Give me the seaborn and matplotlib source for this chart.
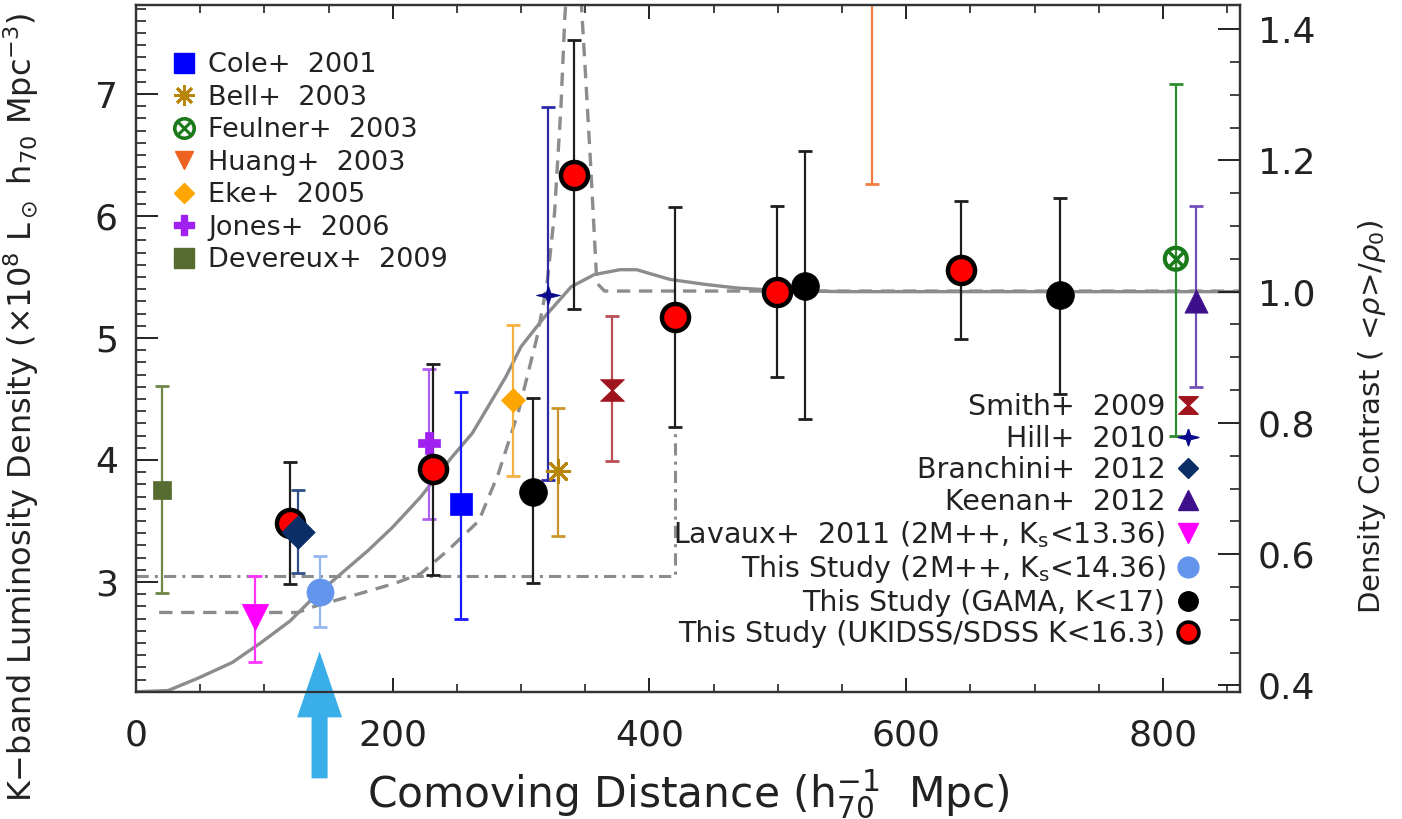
import numpy as np
import matplotlib
matplotlib.use("Agg")
import matplotlib.pyplot as plt
import seaborn as sns
from matplotlib.lines import Line2D
from matplotlib.ticker import MultipleLocator, FormatStrFormatter

# ---------------- data ----------------
# model curves (K-band luminosity density, 1e8 Lsun h70 Mpc^-3)
smooth_x = [0, 25, 48, 75, 97, 120, 139, 160, 181, 200, 222, 245, 262, 288, 300,
            318, 339, 357, 377, 390, 416, 443, 468, 500, 550, 860]
smooth_y = [2.10, 2.11, 2.21, 2.34, 2.50, 2.68, 2.88, 3.07, 3.26, 3.45, 3.70, 4.01,
            4.22, 4.68, 4.93, 5.17, 5.42, 5.52, 5.56, 5.56, 5.48, 5.44, 5.41, 5.39,
            5.38, 5.38]

dashed_x = [18, 126, 139, 176, 202, 222, 243, 267, 282, 298, 312, 320, 326, 331,
            334, 341, 350, 354, 359, 365, 860]
dashed_y = [2.75, 2.75, 2.80, 2.91, 2.99, 3.07, 3.26, 3.50, 3.88, 4.40, 4.99, 5.43,
            6.02, 6.89, 7.62, 8.80, 7.19, 6.45, 5.45, 5.385, 5.385]

dashdot_x = [0, 420, 420]
dashdot_y = [3.05, 3.05, 4.27]

# literature points: label, x, y, lower end, upper end
lit_labels = ["Cole+  2001", "Bell+  2003", "Feulner+  2003", "Huang+  2003",
              "Eke+  2005", "Jones+  2006", "Devereux+  2009",
              "Smith+  2009", "Hill+  2010", "Branchini+  2012", "Keenan+  2012",
              "Lavaux+  2011 (2M++, K$_\\mathrm{s}$<13.36)",
              "This Study (2M++, K$_\\mathrm{s}$<14.36)"]
lit_x = [253, 329, 810, 573, 294, 228, 20, 371, 321, 126, 826, 93, 143]
lit_y = [3.64, 3.91, 5.65, 8.60, 4.49, 4.14, 3.75, 4.57, 5.35, 3.41, 5.30, 2.71, 2.92]
lit_lo = [2.70, 3.38, 4.20, 6.26, 3.87, 3.52, 2.91, 3.99, 3.84, 3.07, 4.60, 2.34, 2.63]
lit_hi = [4.56, 4.43, 7.08, 11.0, 5.11, 4.75, 4.61, 5.18, 6.89, 3.75, 6.08, 3.05, 3.21]

gama_label = "This Study (GAMA, K<17)"
gama_x = [309, 521, 720]
gama_y = [3.74, 5.43, 5.35]
gama_lo = [2.99, 4.34, 4.54]
gama_hi = [4.51, 6.53, 6.15]

ukidss_label = "This Study (UKIDSS/SDSS K<16.3)"
ukidss_x = [120, 231, 341, 420, 499, 643]
ukidss_y = [3.48, 3.93, 6.34, 5.17, 5.38, 5.56]
ukidss_lo = [2.98, 3.06, 5.24, 4.27, 4.68, 4.99]
ukidss_hi = [3.98, 4.79, 7.44, 6.07, 6.08, 6.12]

rho0 = 5.38
xticks_major = [0, 200, 400, 600, 800]

# ---------------- style ----------------
sns.set_style("ticks")
plt.rcParams["font.family"] = ["DejaVu Sans"]
plt.rcParams["mathtext.fontset"] = "dejavusans"
TXT = "#222222"

hill_star = [(0, 0.8), (0.2, 0.2), (1, 0), (0.2, -0.2), (0, -0.8), (-0.2, -0.2),
             (-1, 0), (-0.2, 0.2), (0, 0.8)]
hourglass = [(-1, 0.9), (1, 0.9), (0.06, 0), (1, -0.9), (-1, -0.9), (-0.06, 0), (-1, 0.9)]

styles = {
    "Cole+  2001": dict(marker="s", s=250, face="#0000FF", ecol="#1a1aff"),
    "Bell+  2003": dict(marker=(8, 2, 0), s=260, face="#B8860B", ecol="#C9962A", lw=2.2, unfilled=True),
    "Feulner+  2003": dict(marker="o", s=0, face="#1A7A1A", ecol="#2E8B2E"),
    "Huang+  2003": dict(marker="v", s=300, face="#EE6321", ecol="#F47C3C"),
    "Eke+  2005": dict(marker="D", s=150, face="#FFA500", ecol="#F5B042"),
    "Jones+  2006": dict(marker="P", s=260, face="#A020F0", ecol="#B060F0"),
    "Devereux+  2009": dict(marker="s", s=160, face="#556B2F", ecol="#6E8646"),
    "Smith+  2009": dict(marker=hourglass, s=300, face="#A0141E", ecol="#BD4D55"),
    "Hill+  2010": dict(marker=hill_star, s=300, face="#0A0A8C", ecol="#2A2AA8"),
    "Branchini+  2012": dict(marker="D", s=290, face="#0B2E66", ecol="#2F4F88"),
    "Keenan+  2012": dict(marker="^", s=280, face="#3D0F8A", ecol="#7050B8"),
    lit_labels[11]: dict(marker="v", s=360, face="#FF00FF", ecol="#FF33FF"),
    lit_labels[12]: dict(marker="o", s=380, face="#6495ED", ecol="#93B5F2"),
}

fig = plt.figure(figsize=(14.02, 8.19), dpi=100)
ax = fig.add_axes([136 / 1402, 1 - 692 / 819, 1104 / 1402, 687 / 819])

# model curves
line_col = "#8c8c8c"
sns.lineplot(x=smooth_x, y=smooth_y, ax=ax, color=line_col, lw=2.4, sort=False,
             estimator=None, zorder=2)
sns.lineplot(x=dashed_x, y=dashed_y, ax=ax, color=line_col, lw=2.4, sort=False,
             estimator=None, linestyle=(0, (4, 2.6)), zorder=2)
sns.lineplot(x=dashdot_x, y=dashdot_y, ax=ax, color=line_col, lw=2.2, sort=False,
             estimator=None, linestyle=(0, (4, 2, 1, 2)), zorder=2)


def errbars(x, y, lo, hi, color, z=3):
    x = np.asarray(x, float)
    y = np.asarray(y, float)
    yerr = np.vstack([y - np.asarray(lo), np.asarray(hi) - y])
    ax.errorbar(x, y, yerr=yerr, fmt="none", ecolor=color, elinewidth=1.6,
                capsize=5, capthick=2.0, zorder=z)


# literature points
for i, lab in enumerate(lit_labels):
    st = styles[lab]
    errbars([lit_x[i]], [lit_y[i]], [lit_lo[i]], [lit_hi[i]], st["ecol"])
    z = 5 if lab.startswith("Branchini") else 4
    if lab.startswith("Feulner"):
        sns.scatterplot(x=[lit_x[i]], y=[lit_y[i]], ax=ax, marker="o", s=250,
                        facecolor="none", edgecolor=st["face"], linewidth=3.0,
                        zorder=z, legend=False)
        sns.scatterplot(x=[lit_x[i]], y=[lit_y[i]], ax=ax, marker="x", s=110,
                        color=st["face"], linewidth=2.5, zorder=z, legend=False)
    elif st.get("unfilled"):
        sns.scatterplot(x=[lit_x[i]], y=[lit_y[i]], ax=ax, marker=st["marker"],
                        s=st["s"], color=st["face"], linewidth=st["lw"],
                        zorder=z, legend=False)
    else:
        sns.scatterplot(x=[lit_x[i]], y=[lit_y[i]], ax=ax, marker=st["marker"],
                        s=st["s"], color=st["face"], edgecolor=st["face"],
                        linewidth=0.5, zorder=z, legend=False)

# this study
errbars(gama_x, gama_y, gama_lo, gama_hi, "#1e1e1e")
sns.scatterplot(x=gama_x, y=gama_y, ax=ax, marker="o", s=400, color="black",
                edgecolor="black", linewidth=0.5, zorder=4, legend=False)
errbars(ukidss_x, ukidss_y, ukidss_lo, ukidss_hi, "#1e1e1e")
sns.scatterplot(x=ukidss_x, y=ukidss_y, ax=ax, marker="o", s=380, color="#FF0000",
                edgecolor="black", linewidth=3.2, zorder=4.5, legend=False)

# arrow marking the 2M++ point
arrow_x = lit_x[12]
ax.arrow(arrow_x, 1.39, 0, 1.04, width=12.5, head_width=35, head_length=0.54,
         length_includes_head=True, color="#3AAEE8", lw=0, clip_on=False, zorder=6)

# axes
ax.set_xlim(0, 860)
ax.set_ylim(2.098, 7.73)
ax.set_xticks(xticks_major)
ax.xaxis.set_minor_locator(MultipleLocator(50))
ax.yaxis.set_major_locator(MultipleLocator(1))
ax.yaxis.set_minor_locator(MultipleLocator(0.1))
ax.tick_params(axis="x", which="major", direction="in", length=10, width=1.4,
               top=True, labelsize=26, pad=19, colors=TXT)
ax.tick_params(axis="x", which="minor", direction="in", length=5.5, width=1.2, top=True, colors=TXT)
ax.tick_params(axis="y", which="major", direction="in", length=16, width=1.4,
               right=False, labelsize=26, pad=13, colors=TXT)
ax.tick_params(axis="y", which="minor", direction="in", length=7.5, width=1.2, right=False, colors=TXT)
for sp in ax.spines.values():
    sp.set_linewidth(1.6)
    sp.set_color("#333333")
    sp.set_visible(True)

ax2 = ax.twinx()
ax2.set_ylim(2.098 / rho0, 7.73 / rho0)
ax2.yaxis.set_major_locator(MultipleLocator(0.2))
ax2.yaxis.set_minor_locator(MultipleLocator(0.05))
ax2.yaxis.set_major_formatter(FormatStrFormatter("%.1f"))
ax2.tick_params(axis="y", which="major", direction="in", length=16, width=1.4,
                labelsize=26, pad=13, colors=TXT)
ax2.tick_params(axis="y", which="minor", direction="in", length=7.5, width=1.2, colors=TXT)
for sp in ax2.spines.values():
    sp.set_linewidth(1.6)
    sp.set_color("#333333")

ax.set_xlabel(r"Comoving Distance ($\mathrm{h}_{70}^{-1}$  Mpc)", fontsize=30.5, color=TXT,
              va="baseline")
ax.xaxis.set_label_coords(0.5, -0.168)
ax.set_ylabel(r"K$-$band Luminosity Density ($\times$10$^8$ L$_\odot$ h$_{70}$ Mpc$^{-3}$)",
              fontsize=23, color=TXT)
ax.yaxis.set_label_coords(-0.086, 0.415)
ax2.set_ylabel(r"Density Contrast ( <$\rho$>/$\rho_0$)", fontsize=21, color=TXT,
               rotation=90, va="center")
ax2.yaxis.set_label_coords(1.12, 0.40)

# legends
def handle(lab):
    st = styles[lab]
    if lab.startswith("Feulner"):
        return (Line2D([], [], ls="none", marker="o", ms=14, mfc="none", mec=st["face"], mew=2.6),
                Line2D([], [], ls="none", marker="x", ms=8, color=st["face"], mew=2.2))
    if st.get("unfilled"):
        return Line2D([], [], ls="none", marker=st["marker"], ms=15, color=st["face"], mew=2.0)
    ms = {"Cole+  2001": 14, "Devereux+  2009": 14, "Eke+  2005": 10, "Jones+  2006": 14,
          "Huang+  2003": 13, "Smith+  2009": 14, "Hill+  2010": 15, "Branchini+  2012": 10,
          "Keenan+  2012": 14}.get(lab, 15)
    return Line2D([], [], ls="none", marker=st["marker"], ms=ms, color=st["face"], mec=st["face"])


left_labels = lit_labels[:7]
leg1 = ax.legend([handle(l) for l in left_labels], left_labels, loc="upper left",
                 bbox_to_anchor=(0.031, 0.931), frameon=False, fontsize=19.5,
                 handlelength=1.0, handletextpad=0.4, labelspacing=0.24,
                 borderpad=0, borderaxespad=0)
for t in leg1.get_texts():
    t.set_color(TXT)
ax.add_artist(leg1)

right_labels = lit_labels[7:] + [gama_label, ukidss_label]
right_handles = [handle(l) for l in lit_labels[7:]] + [
    Line2D([], [], ls="none", marker="o", ms=14, color="black"),
    Line2D([], [], ls="none", marker="o", ms=15, mfc="#FF0000", mec="black", mew=2.6),
]
leg2 = ax.legend(right_handles, right_labels, loc="lower right",
                 bbox_to_anchor=(0.966, 0.064), frameon=False, fontsize=20.5,
                 markerfirst=False, handlelength=1.0, handletextpad=0.3,
                 labelspacing=0.12, borderpad=0, borderaxespad=0)
for t in leg2.get_texts():
    t.set_color(TXT)
for col in leg2._legend_handle_box.get_children():
    col.align = "right"

fig.savefig("out.png", dpi=100)
